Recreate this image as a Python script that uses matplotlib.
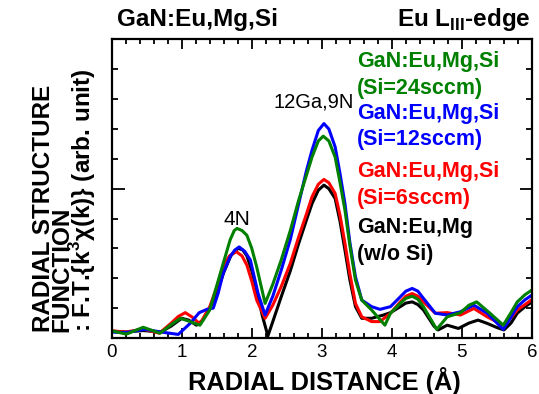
import numpy as np
import matplotlib
matplotlib.use("Agg")
import matplotlib.pyplot as plt
from matplotlib.ticker import MultipleLocator

plt.rcParams['font.family'] = ['Liberation Sans', 'DejaVu Sans']
plt.rcParams['mathtext.fontset'] = 'custom'
plt.rcParams['mathtext.rm'] = 'Liberation Sans'
plt.rcParams['mathtext.bf'] = 'Liberation Sans:bold'

# radial distance (A) / FT magnitude
r_black = [0, 0.2, 0.45, 0.7, 0.85, 1.0, 1.1, 1.21, 1.3, 1.4, 1.5, 1.6, 1.7, 1.76, 1.81, 1.87, 1.93, 2.0,
           2.07, 2.15, 2.23, 2.3, 2.42, 2.55, 2.67, 2.78, 2.86, 2.95, 3.03, 3.1, 3.19, 3.26, 3.33, 3.4,
           3.48, 3.57, 3.71, 3.88, 3.98, 4.12, 4.2, 4.29, 4.37, 4.45, 4.6, 4.66, 4.79, 4.95, 5.1, 5.23,
           5.36, 5.5, 5.6, 5.7, 5.79, 5.9, 6.0]
ft_black = [0.23, 0.2, 0.25, 0.2, 0.4, 0.66, 0.6, 0.43, 0.6, 1.0, 1.5, 2.2, 2.75, 2.93, 3.0, 2.95, 2.75, 2.25,
            1.6, 0.75, 0.07, 0.55, 1.38, 2.25, 3.17, 3.95, 4.5, 4.95, 5.12, 5.0, 4.67, 3.9, 2.94, 1.95,
            1.05, 0.66, 0.66, 0.77, 0.85, 1.05, 1.17, 1.21, 1.12, 0.94, 0.4, 0.27, 0.43, 0.32, 0.5, 0.6,
            0.49, 0.35, 0.27, 0.5, 0.83, 1.05, 1.21]

r_red = [0, 0.2, 0.45, 0.68, 0.85, 0.95, 1.05, 1.15, 1.26, 1.4, 1.5, 1.59, 1.68, 1.78, 1.86, 1.93, 2.0,
         2.07, 2.19, 2.3, 2.42, 2.55, 2.67, 2.78, 2.86, 2.95, 3.03, 3.1, 3.19, 3.26, 3.33, 3.4, 3.48,
         3.57, 3.71, 3.83, 3.98, 4.12, 4.2, 4.29, 4.37, 4.45, 4.62, 4.79, 4.98, 5.17, 5.36, 5.59,
         5.7, 5.79, 5.9, 6.0]
ft_red = [0.24, 0.2, 0.3, 0.16, 0.5, 0.72, 0.85, 0.7, 0.47, 1.05, 1.7, 2.38, 2.75, 2.89, 2.75, 2.44, 1.9,
          1.27, 0.66, 1.1, 1.72, 2.5, 3.39, 4.15, 4.73, 5.15, 5.31, 5.2, 4.84, 4.1, 3.17, 2.15, 1.16,
          0.71, 0.55, 0.55, 0.83, 1.21, 1.4, 1.49, 1.4, 1.21, 0.83, 0.85, 0.77, 0.99, 0.71, 0.43,
          0.68, 0.94, 1.12, 1.29]

r_blue = [0, 0.2, 0.47, 0.71, 0.95, 1.12, 1.25, 1.36, 1.45, 1.52, 1.59, 1.69, 1.76, 1.82, 1.9, 1.98,
          2.09, 2.19, 2.3, 2.42, 2.55, 2.67, 2.78, 2.86, 2.95, 3.03, 3.1, 3.19, 3.26, 3.33, 3.4, 3.48,
          3.57, 3.71, 3.83, 3.98, 4.12, 4.2, 4.29, 4.37, 4.45, 4.62, 4.79, 4.98, 5.17, 5.36, 5.59,
          5.7, 5.79, 5.9, 6.0]
ft_blue = [0.2, 0.18, 0.29, 0.2, 0.12, 0.49, 0.85, 0.96, 1.0, 1.5, 2.16, 2.72, 2.95, 3.05, 2.9, 2.61,
           1.49, 0.77, 1.4, 2.27, 3.3, 4.5, 5.6, 6.29, 6.95, 7.18, 7.0, 6.4, 5.5, 4.5, 3.2, 2.05,
           1.27, 1.05, 0.96, 1.05, 1.38, 1.57, 1.66, 1.57, 1.33, 0.83, 0.77, 0.88, 1.1, 0.83, 0.29,
           0.7, 1.05, 1.28, 1.44]

r_green = [0, 0.21, 0.45, 0.69, 0.85, 0.98, 1.12, 1.26, 1.4, 1.55, 1.69, 1.75, 1.79, 1.86, 1.93, 2.0,
           2.07, 2.19, 2.3, 2.42, 2.55, 2.67, 2.78, 2.86, 2.95, 3.02, 3.1, 3.19, 3.26, 3.33, 3.4, 3.48,
           3.57, 3.71, 3.9, 3.98, 4.12, 4.2, 4.29, 4.37, 4.45, 4.64, 4.79, 4.98, 5.1, 5.21, 5.4, 5.59,
           5.7, 5.79, 5.9, 6.0]
ft_green = [0.24, 0.13, 0.36, 0.16, 0.45, 0.66, 0.55, 0.43, 0.94, 2.16, 3.28, 3.6, 3.67, 3.6, 3.44, 3.0,
            2.38, 1.16, 1.8, 2.61, 3.6, 4.62, 5.45, 6.06, 6.6, 6.76, 6.6, 6.06, 5.2, 4.28, 3.1, 1.94,
            1.27, 0.94, 0.43, 0.83, 1.16, 1.33, 1.4, 1.3, 1.05, 0.29, 0.71, 0.85, 1.1, 1.21, 0.83, 0.43,
            0.85, 1.21, 1.45, 1.61]

series = [
    (r_black, ft_black, "black", ["GaN:Eu,Mg", "(w/o Si)"], [3.5, 2.6]),
    (r_red, ft_red, "red", ["GaN:Eu,Mg,Si", "(Si=6sccm)"], [5.39, 4.5]),
    (r_blue, ft_blue, "blue", ["GaN:Eu,Mg,Si", "(Si=12sccm)"], [7.35, 6.45]),
    (r_green, ft_green, "green", ["GaN:Eu,Mg,Si", "(Si=24sccm)"], [9.08, 8.18]),
]

fig = plt.figure(figsize=(5.39, 3.94), dpi=100)
ax = fig.add_axes([0.2072, 0.1421, 0.7798, 0.7579])

for r, ft, col, labels, ys in series:
    ax.plot(r, ft, color=col, lw=2.2)
    for lab, yy in zip(labels, ys):
        ax.text(3.5, yy, lab, color=col, fontsize=15.5, fontweight='bold', va='baseline', ha='left')

ax.text(2.88, 7.73, "12Ga,9N", fontsize=14.5, ha='center', va='baseline')
ax.text(1.79, 3.78, "4N", fontsize=15, ha='center', va='baseline')

ax.set_xlim(0, 6)
ax.set_ylim(0, 10)
ax.xaxis.set_major_locator(MultipleLocator(1))
ax.xaxis.set_minor_locator(MultipleLocator(0.2))
ax.yaxis.set_major_locator(MultipleLocator(5))
ax.yaxis.set_minor_locator(MultipleLocator(1))
ax.tick_params(axis='both', which='both', direction='in', top=True, right=True, width=1.3)
ax.tick_params(axis='x', which='major', length=7, labelsize=13.5, pad=4)
ax.tick_params(axis='x', which='minor', length=3.5)
ax.tick_params(axis='y', which='major', length=9, labelleft=False)
ax.tick_params(axis='y', which='minor', length=4.5)
for s in ax.spines.values():
    s.set_linewidth(1.6)

fig.text(0.601, 0.0102, "RADIAL DISTANCE (Å)", fontsize=18.3, fontweight='bold', ha='center', va='baseline')

# y label as one rotated multi-line block, tight line spacing like the original
ylab = "RADIAL STRUCTURE\nFUNCTION\n: F.T.{k$^\\mathbf{3}$χ(k)} (arb. unit)"
fig.text(32.5 / 539, 0.157, ylab, rotation=90, ha='left', va='top', rotation_mode='anchor',
         multialignment='left', linespacing=0.73, fontsize=17.5, fontweight='bold')

fig.text(0.217, 0.934, "GaN:Eu,Mg,Si", fontsize=17.5, fontweight='bold', ha='left', va='baseline')
fig.text(0.985, 0.934, "Eu L$_\\mathbf{III}$-edge", fontsize=17.5, fontweight='bold', ha='right', va='baseline')

fig.savefig("out.png", dpi=100)
